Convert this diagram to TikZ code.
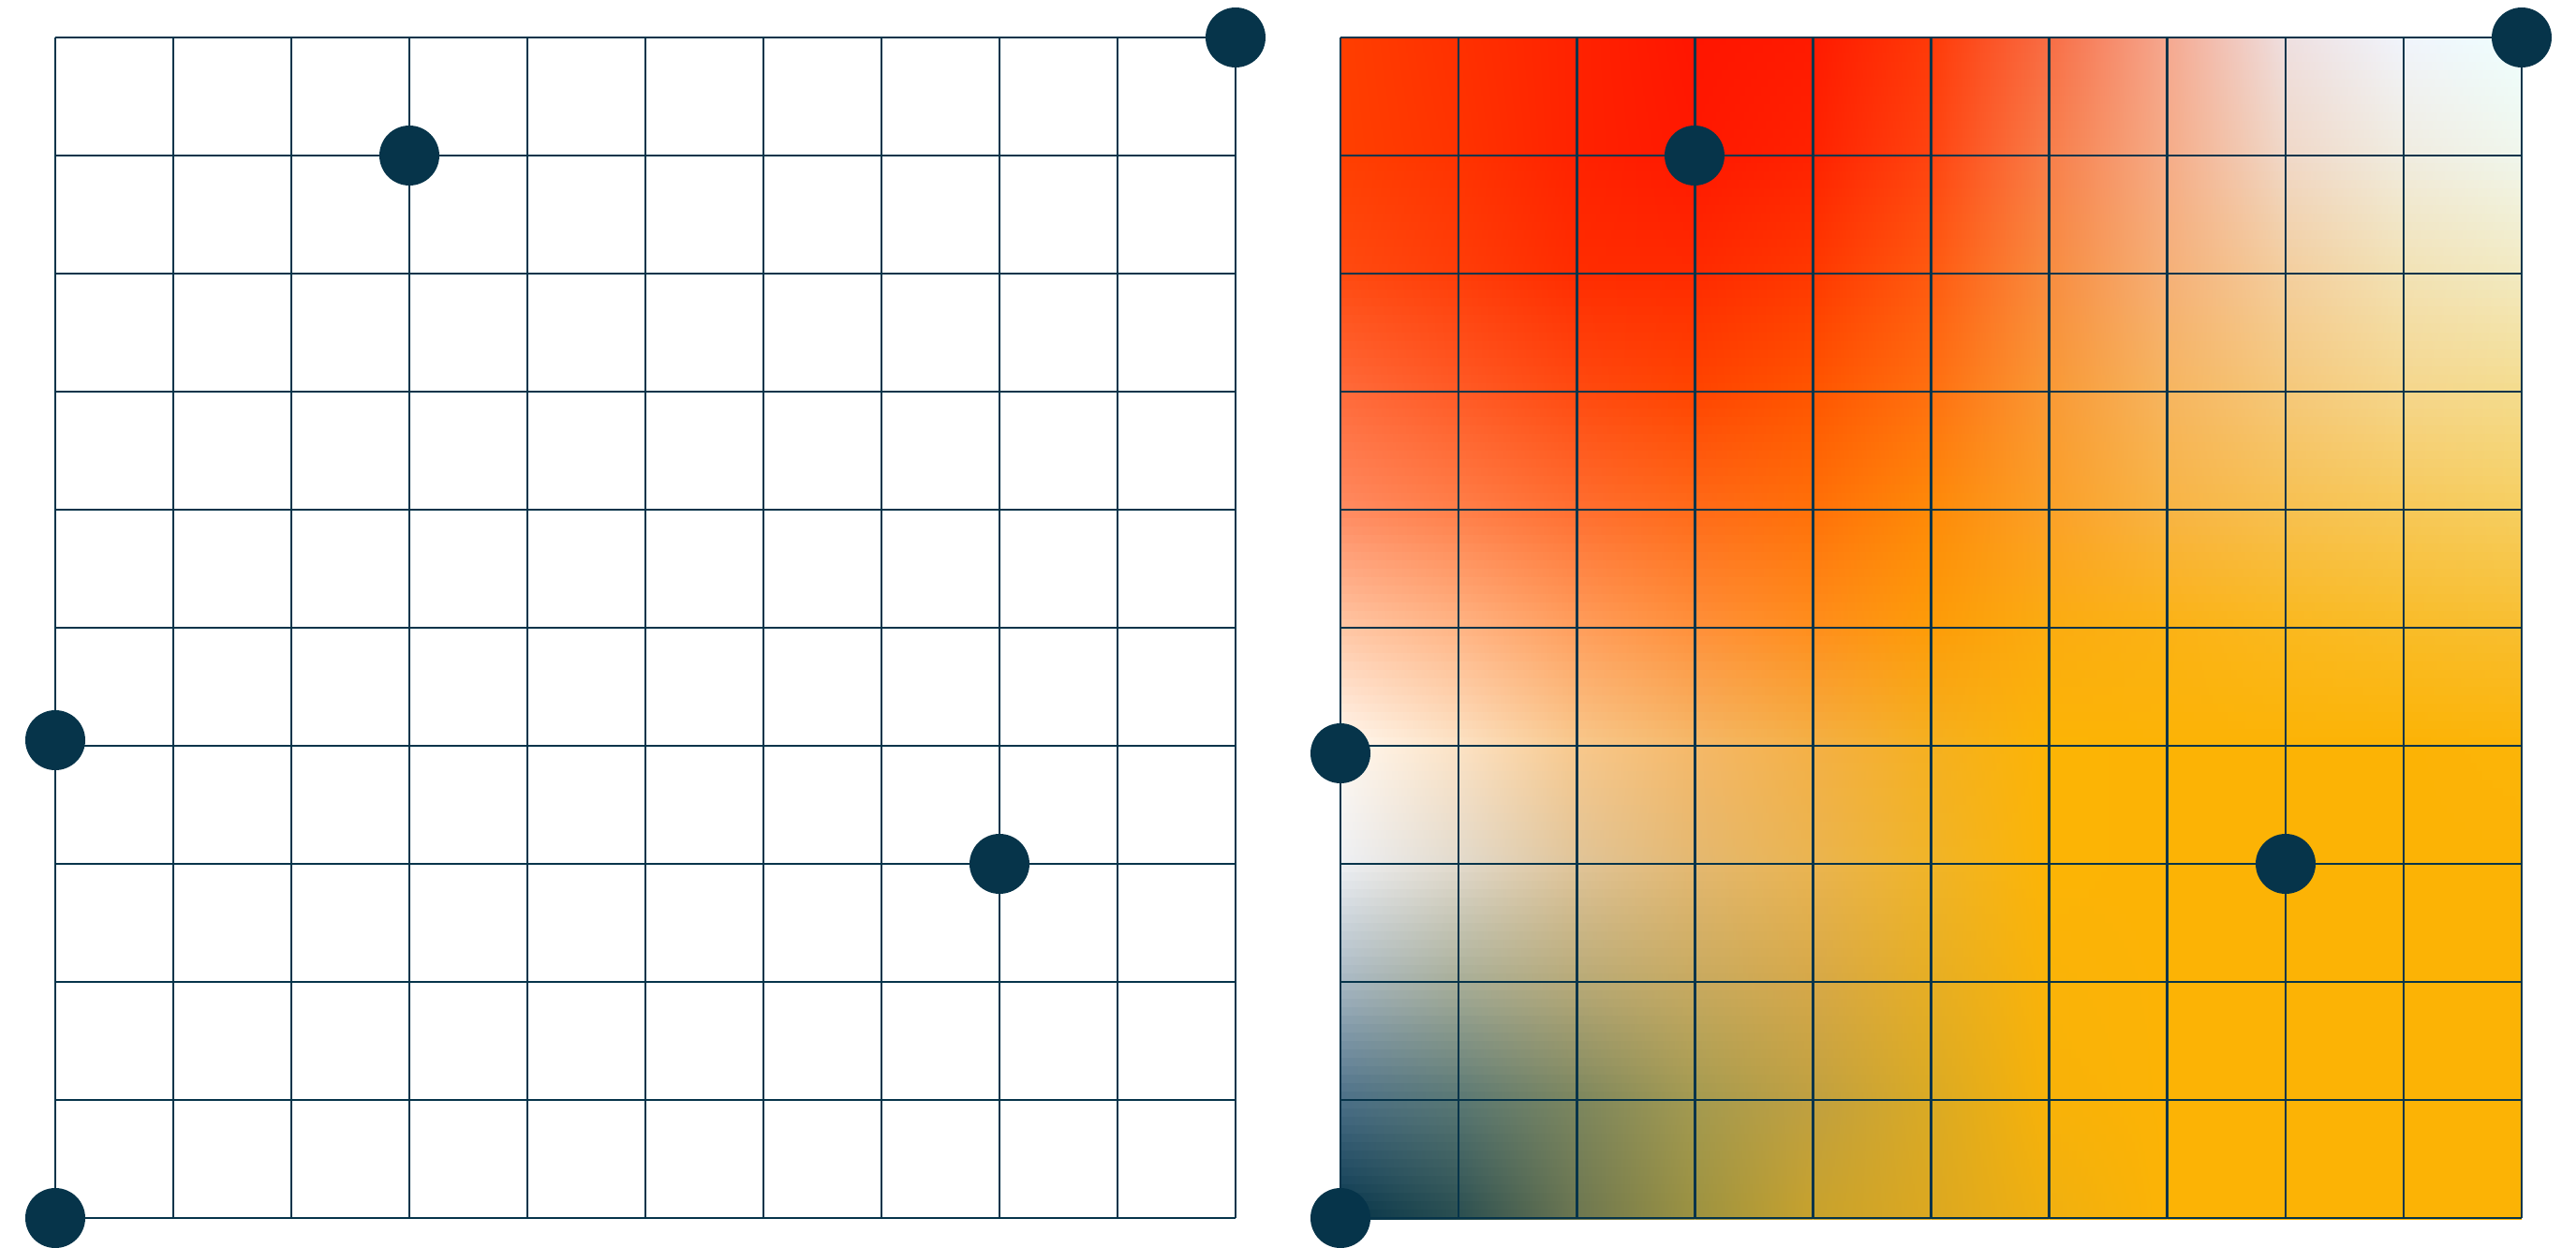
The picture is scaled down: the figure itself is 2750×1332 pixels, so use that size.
\documentclass[tikz,border=0pt]{standalone}
\usepackage{xcolor}
\definecolor{navy}{RGB}{6,52,74}
\def\D#1#2#3{\definecolor{m#1x#2}{HTML}{#3}}
\def\R#1:#2,#3,#4,#5,#6,#7,#8,#9,{\D{#1}{0}{#2}\D{#1}{1}{#3}\D{#1}{2}{#4}\D{#1}{3}{#5}\D{#1}{4}{#6}\D{#1}{5}{#7}\D{#1}{6}{#8}\D{#1}{7}{#9}\Rb{#1}}
\def\Rb#1#2,#3,#4;{\D{#1}{8}{#2}\D{#1}{9}{#3}\D{#1}{10}{#4}}
\R0:FF3E00,FF3000,FF2200,FF1500,FF1A00,FF3A08,F86D45,F5A890,EEDFE0,F0F4FC,EEFFFF;
\R1:FF3F00,FF3300,FF2200,FF1800,FF2200,FF4410,F87E4A,F5AC88,F0D8C8,F0ECE0,F0F6EC;
\R2:FF4A10,FF3D08,FF2C00,FF2A00,FF3800,FF5A10,F88C40,F5B078,F3CE9E,F2E2B5,F2EAC2;
\R3:FF6A3A,FF5A25,FF4A10,FF4400,FF5500,FF7010,F99935,F6B560,F5C87A,F5D68C,F4DC8E;
\R4:FF8A60,FF7E48,FF6E30,FF6A18,FF7008,FE8A08,FBA028,F8B445,F7C050,F7C858,F6CE60;
\R5:FFC6A4,FFB484,FF9E5C,FF903A,FF8E1C,FD9C08,FBAC10,FBB215,FAB81E,F9BC28,F8BE30;
\R6:FFF8F0,FCE2C4,F8C88C,F5B868,F4B045,F5B020,FCB405,FCB305,FCB305,FCB305,FCB408;
\R7:EEF0F4,E2DACC,E0C498,E4B870,EAB450,F0B428,FCB405,FCB305,FCB305,FCB305,FCB305;
\R8:A8B8C4,A8AE98,B8AA78,C8AA60,D6A848,E6AE24,FAB308,FCB305,FCB305,FCB305,FCB305;
\R9:4C7088,5A7874,7C865E,A49A50,C0A040,DAAA24,F8B208,FCB305,FCB305,FCB305,FCB305;
\R10:05344A,2A4E50,6C7650,9C9240,C8A22C,DCA820,F0B010,FCB305,FCB305,FCB305,FCB305;
\tikzset{
  gridline/.style={draw=navy, line width=2.6pt},
  dot/.style={circle, fill=navy, minimum size=64pt, inner sep=0pt},
}
\begin{document}
\begin{tikzpicture}[x=1pt,y=-1pt]
\useasboundingbox (0,0) rectangle (2750,1332);
% ---- mesh gradient on the right grid ----
\foreach \ri in {0,...,9}{
  \foreach \ci in {0,...,9}{
    \pgfmathtruncatemacro\rr{\ri+1}
    \pgfmathtruncatemacro\cc{\ci+1}
    \foreach \k in {0,...,13}{
      \pgfmathtruncatemacro\p{100-(\k+0.5)/14*100}
      \shade[left color=m\ri x\ci!\p!m\rr x\ci, right color=m\ri x\cc!\p!m\rr x\cc]
        (1431+\ci*126.1, 40+\ri*126+\k*9) rectangle ++(126.1, 10);
    }
  }
}
% ---- grid lines ----
\foreach \i in {0,...,10}{
  \draw[gridline] (59+\i*126, 40) -- (59+\i*126, 1300);
  \draw[gridline] (59, 40+\i*126) -- (1319, 40+\i*126);
  \draw[gridline] (1431+\i*126.1, 40) -- (1431+\i*126.1, 1300);
  \draw[gridline] (1431, 40+\i*126) -- (2692, 40+\i*126);
}
% ---- control points ----
\node[dot] (la) at (1319,40) {};
\node[dot] (lb) at (437,166) {};
\node[dot] (lc) at (59,790) {};
\node[dot] (ld) at (1067,922) {};
\node[dot] (le) at (59,1300) {};
\node[dot] (ra) at (2692,40) {};
\node[dot] (rb) at (1809,166) {};
\node[dot] (rc) at (1431,804) {};
\node[dot] (rd) at (2440,922) {};
\node[dot] (re) at (1431,1300) {};
\end{tikzpicture}
\end{document}
